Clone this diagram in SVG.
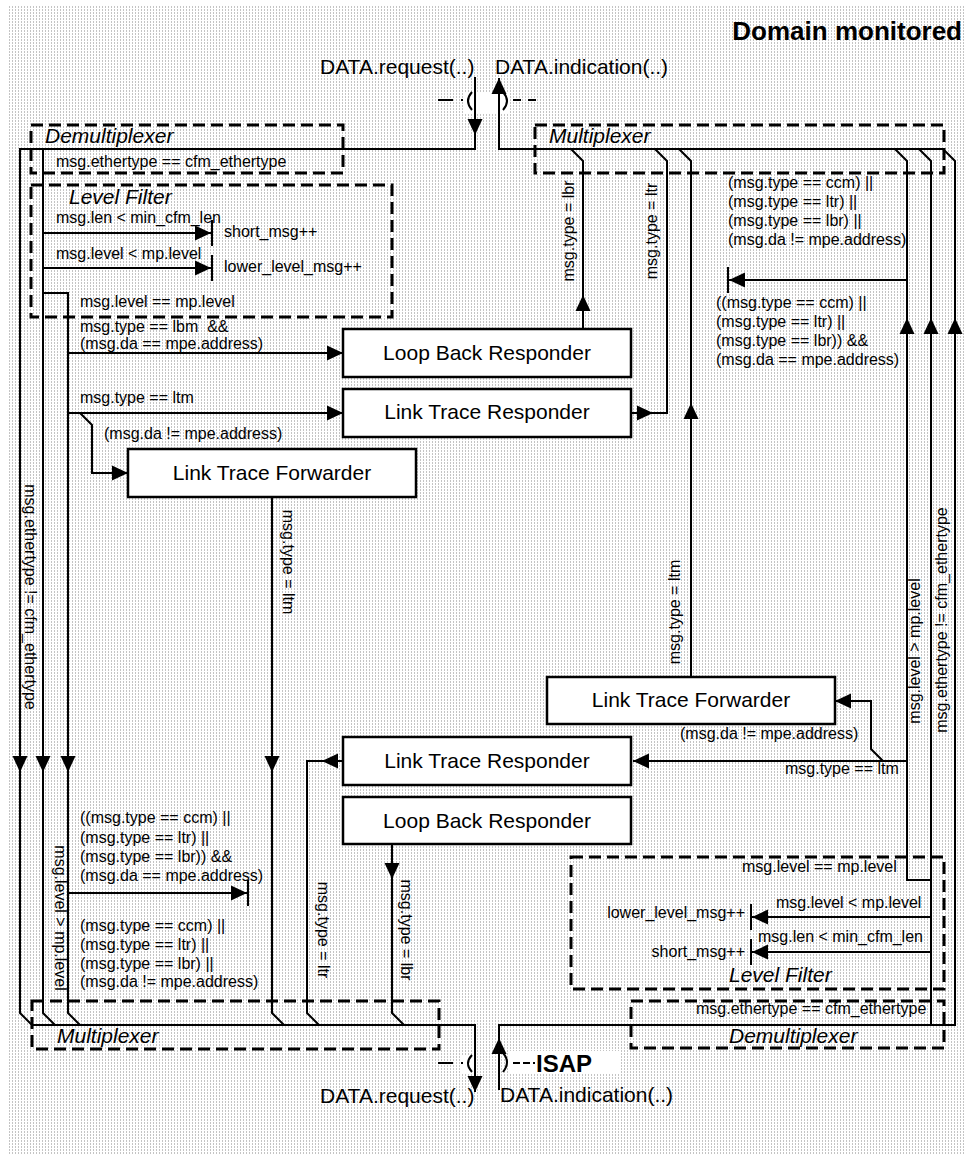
<svg xmlns="http://www.w3.org/2000/svg" xmlns:xlink="http://www.w3.org/1999/xlink" width="966" height="1155" viewBox="0 0 966 1155">
<style>
.ln{fill:none;stroke:#000;stroke-width:2}
.dbox{fill:none;stroke:#000;stroke-width:3;stroke-dasharray:12 6}
.box{fill:#fff;stroke:#000;stroke-width:2.5}
.t{font-family:"Liberation Sans",Arial,sans-serif;font-size:16px;fill:#000}
.big{font-size:21px}
.it{font-style:italic;font-size:21px}
.title{font-weight:bold;font-size:26px}
.isap{font-weight:bold;font-size:24px}
.ah{fill:#000}
</style>
<defs>
<pattern id="bg" width="3" height="3" patternUnits="userSpaceOnUse">
<rect width="3" height="3" fill="#fff"/>
<rect width="1" height="2" fill="#c4c4c4"/>
</pattern>
<polygon id="ah-d" class="ah" points="0,0 -7.5,-16 7.5,-16"/>
<polygon id="ah-u" class="ah" points="0,0 -7.5,16 7.5,16"/>
<polygon id="ah-l" class="ah" points="0,0 16,-7.5 16,7.5"/>
<polygon id="ah-r" class="ah" points="0,0 -16,-7.5 -16,7.5"/>
<g id="st-r"><polygon class="ah" points="0,0 -16,-7.5 -16,7.5"/><line x1="1" y1="-13" x2="1" y2="13" stroke="#000" stroke-width="2"/></g>
<g id="st-l"><polygon class="ah" points="0,0 16,-7.5 16,7.5"/><line x1="-1" y1="-13" x2="-1" y2="13" stroke="#000" stroke-width="2"/></g>
</defs>
<rect width="966" height="1155" fill="#fff"/>
<rect x="7" y="5" width="959" height="1150" fill="url(#bg)"/>

<!-- port backgrounds -->
<rect x="463" y="92" width="47" height="21" fill="#fff"/>
<rect x="462" y="1055" width="14" height="18" fill="#fff"/>
<rect x="510" y="1051" width="111" height="23" fill="#fff"/>

<text class="t title" x="962" y="40" text-anchor="end">Domain monitored</text>

<!-- top domain blocks -->
<g id="demux-top">
<rect class="dbox" x="31" y="125" width="312" height="48"/>
<text class="t it" x="45" y="143">Demultiplexer</text>
</g>
<g id="levelfilter-top">
<rect class="dbox" x="31" y="185" width="361" height="132"/>
<text class="t it" x="69" y="204">Level Filter</text>
</g>
<g id="mux-top">
<rect class="dbox" x="535" y="125" width="409" height="48"/>
<text class="t it" x="549" y="143">Multiplexer</text>
</g>
<g id="lbr-top">
<rect class="box" x="343" y="329" width="288" height="48"/>
<text class="t big" x="487" y="360" text-anchor="middle">Loop Back Responder</text>
</g>
<g id="ltr-top">
<rect class="box" x="343" y="389" width="288" height="48"/>
<text class="t big" x="487" y="419" text-anchor="middle">Link Trace Responder</text>
</g>
<g id="ltf-top">
<rect class="box" x="128" y="449" width="288" height="48"/>
<text class="t big" x="272" y="480" text-anchor="middle">Link Trace Forwarder</text>
</g>

<!-- bottom domain blocks -->
<g id="ltf-bottom">
<rect class="box" x="547" y="677" width="288" height="47"/>
<text class="t big" x="691" y="707" text-anchor="middle">Link Trace Forwarder</text>
</g>
<g id="ltr-bottom">
<rect class="box" x="343" y="737" width="288" height="48"/>
<text class="t big" x="487" y="768" text-anchor="middle">Link Trace Responder</text>
</g>
<g id="lbr-bottom">
<rect class="box" x="343" y="797" width="288" height="47"/>
<text class="t big" x="487" y="828" text-anchor="middle">Loop Back Responder</text>
</g>
<g id="levelfilter-bottom">
<rect class="dbox" x="571" y="857" width="373" height="132"/>
<text class="t it" x="729" y="982">Level Filter</text>
</g>
<g id="demux-bottom">
<rect class="dbox" x="631" y="1001" width="313" height="47"/>
<text class="t it" x="729" y="1043">Demultiplexer</text>
</g>
<g id="mux-bottom">
<rect class="dbox" x="32" y="1001" width="407" height="48"/>
<text class="t it" x="57" y="1043">Multiplexer</text>
</g>

<!-- ports -->
<g id="port-top">
<text class="t big" x="320" y="74">DATA.request(..)</text>
<text class="t big" x="495" y="74">DATA.indication(..)</text>
<path class="ln" d="M438,100 H464" stroke-width="3" stroke-dasharray="15 8 2 10"/>
<path class="ln" d="M472,92 Q464,101 472,110"/>
<path class="ln" d="M503,92 Q511,101 503,110"/>
<path class="ln" d="M513,100 H536" stroke-width="3" stroke-dasharray="8 7"/>
</g>
<g id="port-bottom">
<text class="t big" x="320" y="1103">DATA.request(..)</text>
<text class="t big" x="500" y="1102">DATA.indication(..)</text>
<path class="ln" d="M438,1063 H464" stroke-width="3" stroke-dasharray="15 8 2 10"/>
<path class="ln" d="M472,1055 Q464,1063.5 472,1072"/>
<path class="ln" d="M503,1053 Q511,1062 503,1072"/>
<path class="ln" d="M513,1063 H535" stroke-width="3" stroke-dasharray="7 3 7 3 2 10"/>
<text class="t isap" x="536" y="1072">ISAP</text>
</g>

<g id="connectors">
<!-- left/top side -->
<path class="ln" d="M475,77 V149 H20 V1013 L32,1025"/>
<path class="ln" d="M43,149 V1013 L55,1025"/>
<path class="ln" d="M43,233 H211"/>
<path class="ln" d="M43,268 H211"/>
<path class="ln" d="M43,293 H68 V1013 L80,1025"/>
<path class="ln" d="M68,353 H343"/>
<path class="ln" d="M68,413 H343"/>
<path class="ln" d="M80,413 L92,425 V473 H128"/>
<path class="ln" d="M68,893 H247"/>
<path class="ln" d="M272,497 V1013 L284,1025"/>
<path class="ln" d="M343,761 H307 V1013 L319,1025"/>
<path class="ln" d="M392,844 V1013 L404,1025"/>
<path class="ln" d="M32,1025 H475 V1092"/>
<!-- right side -->
<path class="ln" d="M499,1090 V1025 H955 V161 L943,149 H499 V78"/>
<path class="ln" d="M931,1025 V161 L919,149"/>
<path class="ln" d="M931,917 H752"/>
<path class="ln" d="M931,952 H752"/>
<path class="ln" d="M931,880 H907 V161 L895,149"/>
<path class="ln" d="M907,280 H729"/>
<path class="ln" d="M907,761 H633"/>
<path class="ln" d="M883,761 L871,749 V701 H835"/>
<path class="ln" d="M691,677 V161 L679,149"/>
<path class="ln" d="M631,413 H667 V161 L655,149"/>
<path class="ln" d="M583,329 V161 L571,149"/>

<!-- arrowheads -->
<use xlink:href="#ah-d" x="475" y="135"/>
<use xlink:href="#ah-d" x="20" y="772"/>
<use xlink:href="#ah-d" x="43" y="772"/>
<use xlink:href="#ah-d" x="68" y="772"/>
<use xlink:href="#ah-d" x="272" y="772"/>
<use xlink:href="#ah-r" x="343" y="353"/>
<use xlink:href="#ah-r" x="343" y="413"/>
<use xlink:href="#ah-r" x="128" y="473"/>
<use xlink:href="#st-r" x="211" y="233"/>
<use xlink:href="#st-r" x="211" y="268"/>
<use xlink:href="#st-r" x="247" y="893"/>
<use xlink:href="#ah-l" x="322" y="761"/>
<use xlink:href="#ah-d" x="392" y="879"/>
<use xlink:href="#ah-d" x="475" y="1092"/>
<use xlink:href="#ah-u" x="499" y="1038"/>
<use xlink:href="#ah-u" x="499" y="78"/>
<use xlink:href="#ah-u" x="907" y="318"/>
<use xlink:href="#ah-u" x="931" y="318"/>
<use xlink:href="#ah-u" x="955" y="318"/>
<use xlink:href="#st-l" x="729" y="280"/>
<use xlink:href="#ah-l" x="633" y="761"/>
<use xlink:href="#ah-l" x="835" y="701"/>
<use xlink:href="#st-l" x="752" y="917"/>
<use xlink:href="#st-l" x="752" y="952"/>
<use xlink:href="#ah-u" x="691" y="403"/>
<use xlink:href="#ah-r" x="653" y="413"/>
<use xlink:href="#ah-u" x="583" y="295"/>

<!-- connector labels: top domain -->
<text class="t" x="56" y="167">msg.ethertype == cfm_ethertype</text>
<text class="t" x="56" y="223">msg.len &lt; min_cfm_len</text>
<text class="t" x="224" y="237">short_msg++</text>
<text class="t" x="56" y="259">msg.level &lt; mp.level</text>
<text class="t" x="224" y="272">lower_level_msg++</text>
<text class="t" x="80" y="307">msg.level == mp.level</text>
<text class="t" x="80" y="332" xml:space="preserve">msg.type == lbm  &amp;&amp;</text>
<text class="t" x="80" y="349">(msg.da == mpe.address)</text>
<text class="t" x="80" y="403">msg.type == ltm</text>
<text class="t" x="104" y="439">(msg.da != mpe.address)</text>
<text class="t" transform="translate(25,597) rotate(90)" text-anchor="middle">msg.ethertype != cfm_ethertype</text>
<text class="t" transform="translate(55,918) rotate(90)" text-anchor="middle">msg.level &gt; mp.level</text>
<text class="t" transform="translate(283,562) rotate(90)" text-anchor="middle">msg.type = ltm</text>
<text class="t" transform="translate(318,930) rotate(90)" text-anchor="middle">msg.type = ltr</text>
<text class="t" transform="translate(401,930) rotate(90)" text-anchor="middle">msg.type = lbr</text>
<text class="t" x="80" y="823">((msg.type == ccm) ||</text>
<text class="t" x="80" y="843">(msg.type == ltr) ||</text>
<text class="t" x="80" y="862">(msg.type == lbr)) &amp;&amp;</text>
<text class="t" x="80" y="881">(msg.da == mpe.address)</text>
<text class="t" x="80" y="931">(msg.type == ccm) ||</text>
<text class="t" x="80" y="950">(msg.type == ltr) ||</text>
<text class="t" x="80" y="969">(msg.type == lbr) ||</text>
<text class="t" x="80" y="987">(msg.da != mpe.address)</text>
<!-- connector labels: right side -->
<text class="t" transform="translate(574,231) rotate(-90)" text-anchor="middle">msg.type = lbr</text>
<text class="t" transform="translate(657,231) rotate(-90)" text-anchor="middle">msg.type = ltr</text>
<text class="t" transform="translate(680,612) rotate(-90)" text-anchor="middle">msg.type = ltm</text>
<text class="t" transform="translate(920,651) rotate(-90)" text-anchor="middle">msg.level &gt; mp.level</text>
<text class="t" transform="translate(947,620) rotate(-90)" text-anchor="middle">msg.ethertype != cfm_ethertype</text>
<text class="t" x="728" y="188">(msg.type == ccm) ||</text>
<text class="t" x="728" y="207">(msg.type == ltr) ||</text>
<text class="t" x="728" y="226">(msg.type == lbr) ||</text>
<text class="t" x="728" y="245">(msg.da != mpe.address)</text>
<text class="t" x="716" y="308">((msg.type == ccm) ||</text>
<text class="t" x="716" y="327">(msg.type == ltr) ||</text>
<text class="t" x="716" y="346">(msg.type == lbr)) &amp;&amp;</text>
<text class="t" x="716" y="365">(msg.da == mpe.address)</text>
<text class="t" x="680" y="739">(msg.da != mpe.address)</text>
<text class="t" x="785" y="774">msg.type == ltm</text>
<text class="t" x="742" y="872">msg.level == mp.level</text>
<text class="t" x="776" y="908">msg.level &lt; mp.level</text>
<text class="t" x="745" y="918" text-anchor="end">lower_level_msg++</text>
<text class="t" x="758" y="942">msg.len &lt; min_cfm_len</text>
<text class="t" x="745" y="957" text-anchor="end">short_msg++</text>
<text class="t" x="696" y="1014">msg.ethertype == cfm_ethertype</text>
</g>
</svg>
